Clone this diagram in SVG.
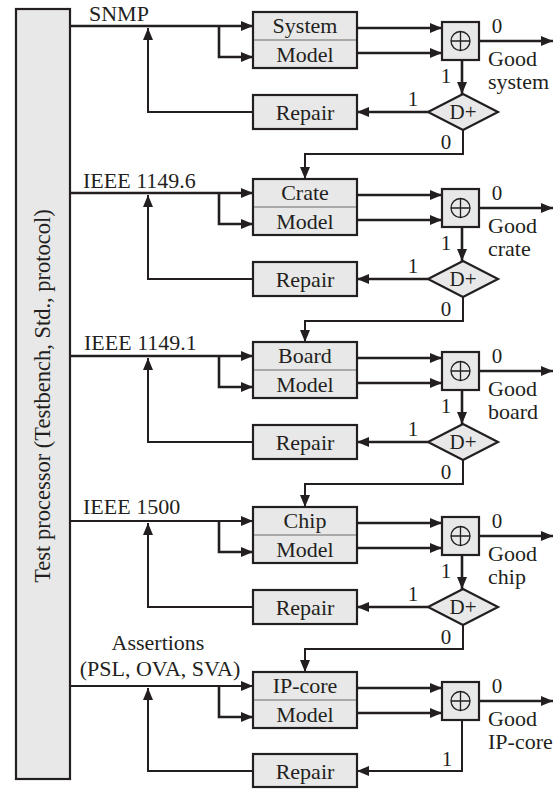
<svg xmlns="http://www.w3.org/2000/svg" width="557" height="789" viewBox="0 0 557 789">
<style>
text{font-family:"Liberation Serif","Times New Roman",serif;font-size:22px;fill:#231f20}
.c{text-anchor:middle}
.d{font-size:21px}
.v{font-size:22.5px}
.box{fill:#e8e8e8;stroke:#231f20;stroke-width:2.2}
.div{stroke:#6b6b6b;stroke-width:1.2}
.w{fill:none;stroke:#231f20;stroke-width:2.6}
.t{fill:none;stroke:#231f20;stroke-width:2}
.x{fill:none;stroke:#231f20;stroke-width:1.3}
</style>
<defs>
<marker id="ah" viewBox="0 0 12 10" refX="12" refY="5" markerWidth="12" markerHeight="10" markerUnits="userSpaceOnUse" orient="auto">
<path d="M0,0 L12,5 L0,10 z" fill="#231f20"/>
</marker>
</defs>

<g id="processor">
<rect class="box" x="16" y="9" width="54" height="770"/>
<text class="c v" transform="translate(50,396) rotate(-90)">Test processor (Testbench, Std., protocol)</text>
</g>

<g id="labels">
<text x="89" y="21">SNMP</text>
<text x="83" y="188">IEEE 1149.6</text>
<text x="84" y="350">IEEE 1149.1</text>
<text x="83" y="514">IEEE 1500</text>
<text class="c" x="158" y="650">Assertions</text>
<text class="c" x="160" y="676">(PSL, OVA, SVA)</text>
</g>

<g id="connectors">
<!-- section 1 L=26 -->
<path class="w" d="M70,26 H253" marker-end="url(#ah)"/>
<path class="w" d="M219,26 V57 H253" marker-end="url(#ah)"/>
<path class="w" d="M357,28 H442" marker-end="url(#ah)"/>
<path class="w" d="M357,53 H442" marker-end="url(#ah)"/>
<path class="w" d="M479,41 H553" marker-end="url(#ah)"/>
<path class="w" d="M462,60 V94" marker-end="url(#ah)"/>
<path class="w" d="M428,112 H357" marker-end="url(#ah)"/>
<path class="t" d="M253,112 H148 V28" marker-end="url(#ah)"/>
<path class="t" d="M463,130 V154 H305 V179" marker-end="url(#ah)"/>
<!-- section 2 L=193 -->
<path class="w" d="M70,193 H253" marker-end="url(#ah)"/>
<path class="w" d="M219,193 V224 H253" marker-end="url(#ah)"/>
<path class="w" d="M357,195 H442" marker-end="url(#ah)"/>
<path class="w" d="M357,220 H442" marker-end="url(#ah)"/>
<path class="w" d="M479,208 H553" marker-end="url(#ah)"/>
<path class="w" d="M462,227 V261" marker-end="url(#ah)"/>
<path class="w" d="M428,279 H357" marker-end="url(#ah)"/>
<path class="t" d="M253,279 H148 V195" marker-end="url(#ah)"/>
<path class="t" d="M463,297 V321 H305 V342" marker-end="url(#ah)"/>
<!-- section 3 L=356 -->
<path class="w" d="M70,356 H253" marker-end="url(#ah)"/>
<path class="w" d="M219,356 V387 H253" marker-end="url(#ah)"/>
<path class="w" d="M357,358 H442" marker-end="url(#ah)"/>
<path class="w" d="M357,383 H442" marker-end="url(#ah)"/>
<path class="w" d="M479,371 H553" marker-end="url(#ah)"/>
<path class="w" d="M462,390 V424" marker-end="url(#ah)"/>
<path class="w" d="M428,442 H357" marker-end="url(#ah)"/>
<path class="t" d="M253,442 H148 V358" marker-end="url(#ah)"/>
<path class="t" d="M463,460 V484 H305 V507" marker-end="url(#ah)"/>
<!-- section 4 L=521 -->
<path class="t" d="M70,521 H253" marker-end="url(#ah)"/>
<path class="w" d="M219,521 V552 H253" marker-end="url(#ah)"/>
<path class="w" d="M357,523 H442" marker-end="url(#ah)"/>
<path class="w" d="M357,548 H442" marker-end="url(#ah)"/>
<path class="w" d="M479,536 H553" marker-end="url(#ah)"/>
<path class="w" d="M462,555 V589" marker-end="url(#ah)"/>
<path class="w" d="M428,607 H357" marker-end="url(#ah)"/>
<path class="t" d="M253,607 H148 V523" marker-end="url(#ah)"/>
<path class="t" d="M463,625 V649 H305 V672" marker-end="url(#ah)"/>
<!-- section 5 L=686 -->
<path class="t" d="M70,686 H253" marker-end="url(#ah)"/>
<path class="w" d="M219,686 V717 H253" marker-end="url(#ah)"/>
<path class="w" d="M357,688 H442" marker-end="url(#ah)"/>
<path class="w" d="M357,713 H442" marker-end="url(#ah)"/>
<path class="w" d="M479,701 H553" marker-end="url(#ah)"/>
<path class="t" d="M462,720 V771 H357" marker-end="url(#ah)"/>
<path class="t" d="M253,771 H148 V688" marker-end="url(#ah)"/>
</g>

<g id="connector-labels">
<text class="c d" x="497" y="33">0</text>
<text class="c d" x="446" y="83">1</text>
<text class="c d" x="413" y="106">1</text>
<text class="c d" x="446" y="149">0</text>
<text class="c d" x="497" y="200">0</text>
<text class="c d" x="446" y="250">1</text>
<text class="c d" x="413" y="273">1</text>
<text class="c d" x="446" y="316">0</text>
<text class="c d" x="497" y="363">0</text>
<text class="c d" x="446" y="413">1</text>
<text class="c d" x="413" y="436">1</text>
<text class="c d" x="446" y="479">0</text>
<text class="c d" x="497" y="528">0</text>
<text class="c d" x="446" y="578">1</text>
<text class="c d" x="413" y="601">1</text>
<text class="c d" x="446" y="644">0</text>
<text class="c d" x="497" y="693">0</text>
<text class="c d" x="447" y="766">1</text>
</g>

<g id="outputs">
<text x="488" y="66">Good</text><text x="488" y="89">system</text>
<text x="488" y="233">Good</text><text x="488" y="256">crate</text>
<text x="488" y="396">Good</text><text x="488" y="419">board</text>
<text x="488" y="561">Good</text><text x="488" y="584">chip</text>
<text x="488" y="726">Good</text><text x="488" y="749">IP-core</text>
</g>

<g id="system">
<rect class="box" x="253" y="12" width="104" height="56"/>
<line class="div" x1="254" y1="40" x2="356" y2="40"/>
<text class="c" x="305" y="33">System</text>
<text class="c" x="305" y="62">Model</text>
</g>
<g id="xor1">
<rect class="box" x="442" y="22" width="37" height="38"/>
<circle class="x" cx="460.5" cy="41" r="9.5"/>
<path class="x" d="M451,41 H470 M460.5,31.5 V50.5"/>
</g>
<g id="dplus1">
<polygon class="box" points="428,112 463,94 498,112 463,130"/>
<text class="c d" x="463" y="119">D+</text>
</g>
<g id="repair1">
<rect class="box" x="253" y="95" width="104" height="34"/>
<text class="c" x="305" y="120">Repair</text>
</g>

<g id="crate">
<rect class="box" x="253" y="179" width="104" height="56"/>
<line class="div" x1="254" y1="207" x2="356" y2="207"/>
<text class="c" x="305" y="200">Crate</text>
<text class="c" x="305" y="229">Model</text>
</g>
<g id="xor2">
<rect class="box" x="442" y="189" width="37" height="38"/>
<circle class="x" cx="460.5" cy="208" r="9.5"/>
<path class="x" d="M451,208 H470 M460.5,198.5 V217.5"/>
</g>
<g id="dplus2">
<polygon class="box" points="428,279 463,261 498,279 463,297"/>
<text class="c d" x="463" y="286">D+</text>
</g>
<g id="repair2">
<rect class="box" x="253" y="262" width="104" height="34"/>
<text class="c" x="305" y="287">Repair</text>
</g>

<g id="board">
<rect class="box" x="253" y="342" width="104" height="56"/>
<line class="div" x1="254" y1="370" x2="356" y2="370"/>
<text class="c" x="305" y="363">Board</text>
<text class="c" x="305" y="392">Model</text>
</g>
<g id="xor3">
<rect class="box" x="442" y="352" width="37" height="38"/>
<circle class="x" cx="460.5" cy="371" r="9.5"/>
<path class="x" d="M451,371 H470 M460.5,361.5 V380.5"/>
</g>
<g id="dplus3">
<polygon class="box" points="428,442 463,424 498,442 463,460"/>
<text class="c d" x="463" y="449">D+</text>
</g>
<g id="repair3">
<rect class="box" x="253" y="425" width="104" height="34"/>
<text class="c" x="305" y="450">Repair</text>
</g>

<g id="chip">
<rect class="box" x="253" y="507" width="104" height="56"/>
<line class="div" x1="254" y1="535" x2="356" y2="535"/>
<text class="c" x="305" y="528">Chip</text>
<text class="c" x="305" y="557">Model</text>
</g>
<g id="xor4">
<rect class="box" x="442" y="517" width="37" height="38"/>
<circle class="x" cx="460.5" cy="536" r="9.5"/>
<path class="x" d="M451,536 H470 M460.5,526.5 V545.5"/>
</g>
<g id="dplus4">
<polygon class="box" points="428,607 463,589 498,607 463,625"/>
<text class="c d" x="463" y="614">D+</text>
</g>
<g id="repair4">
<rect class="box" x="253" y="590" width="104" height="34"/>
<text class="c" x="305" y="615">Repair</text>
</g>

<g id="ipcore">
<rect class="box" x="253" y="672" width="104" height="56"/>
<line class="div" x1="254" y1="700" x2="356" y2="700"/>
<text class="c" x="305" y="693">IP-core</text>
<text class="c" x="305" y="722">Model</text>
</g>
<g id="xor5">
<rect class="box" x="442" y="682" width="37" height="38"/>
<circle class="x" cx="460.5" cy="701" r="9.5"/>
<path class="x" d="M451,701 H470 M460.5,691.5 V710.5"/>
</g>
<g id="repair5">
<rect class="box" x="253" y="754" width="104" height="33"/>
<text class="c" x="305" y="779">Repair</text>
</g>
</svg>
